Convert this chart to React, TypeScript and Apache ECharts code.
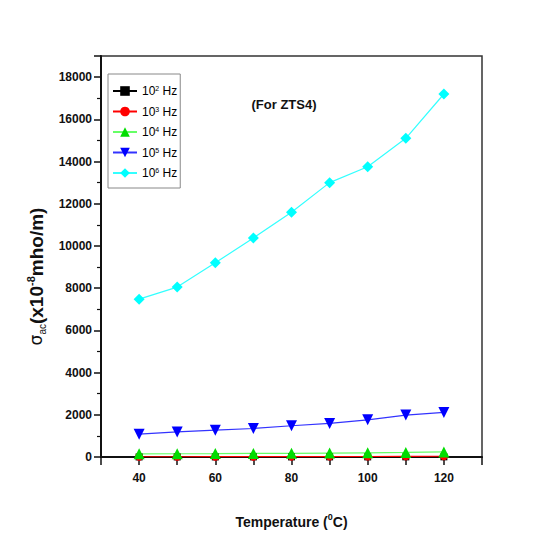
import React, { useEffect, useRef } from "react";
import * as echarts from "echarts";

const temperatures = [40, 50, 60, 70, 80, 90, 100, 110, 120];
const f1e2 = [3, 3, 3, 4, 4, 5, 5, 6, 7];
const f1e3 = [12, 13, 14, 16, 18, 20, 24, 28, 35];
const f1e4 = [150, 155, 160, 170, 175, 185, 200, 215, 240];
const f1e5 = [1080, 1190, 1270, 1350, 1480, 1590, 1760, 1985, 2110];
const f1e6 = [7480, 8050, 9200, 10380, 11600, 13000, 13750, 15100, 17200];
const seriesNames = ["10{sup|2} Hz", "10{sup|3} Hz", "10{sup|4} Hz", "10{sup|5} Hz", "10{sup|6} Hz"];
const xTickLabels = [40, 60, 80, 100, 120];

const FONT = "'Liberation Sans', Arial, sans-serif";

export default function App() {
  const ref = useRef<HTMLDivElement>(null);
  useEffect(() => {
    if (!ref.current) return;
    const chart = echarts.init(ref.current, undefined, { renderer: "svg" });
    const mk = (name: string, data: number[], lineColor: string, markColor: string, symbol: string, size: number, rotate = 0) => ({
      name,
      type: "line",
      data: temperatures.map((t, i) => [t, data[i]]),
      symbol,
      symbolSize: size,
      symbolRotate: rotate,
      lineStyle: { color: lineColor, width: 1.2 },
      itemStyle: { color: markColor },
      z: 3,
    });
    chart.setOption({
      animation: false,
      backgroundColor: "#ffffff",
      textStyle: { fontFamily: FONT },
      grid: { left: 101, right: 75, top: 56, bottom: 95, show: true, borderColor: "#333", borderWidth: 1.5 },
      graphic: [
        {
          type: "text",
          x: 284,
          y: 104,
          style: { text: "(For ZTS4)", fontFamily: FONT, fontSize: 13, fontWeight: "bold", fill: "#111", textAlign: "center", textVerticalAlign: "middle" },
        },
      ],
      legend: {
        left: 108,
        top: 74,
        orient: "vertical",
        itemWidth: 24,
        itemHeight: 12,
        itemGap: 8.5,
        padding: [11, 3, 9, 4],
        borderColor: "#888",
        borderWidth: 1,
        formatter: (n: string) => n,
        textStyle: {
          fontFamily: FONT,
          fontSize: 12,
          color: "#000",
          rich: { sup: { fontSize: 7, verticalAlign: "top", lineHeight: 8, fontFamily: FONT } },
        },
        data: seriesNames,
      },
      xAxis: {
        type: "value",
        min: 30,
        max: 130,
        interval: 10,
        name: "Temperature ({sup|0}C)",
        nameLocation: "middle",
        nameGap: 55,
        nameTextStyle: {
          fontFamily: FONT,
          fontSize: 14,
          fontWeight: "bold",
          color: "#111",
          lineHeight: 20,
          rich: { sup: { fontSize: 9, fontWeight: "bold", verticalAlign: "top", lineHeight: 9, fontFamily: FONT } },
        },
        axisLine: { onZero: false, lineStyle: { color: "#111", width: 2 } },
        axisTick: { show: true, inside: false, length: 8, lineStyle: { color: "#111", width: 1.5 } },
        axisLabel: {
          fontFamily: FONT,
          fontSize: 12,
          fontWeight: "bold",
          color: "#111",
          margin: 15,
          formatter: (v: number) => (xTickLabels.includes(v) ? String(v) : ""),
        },
        splitLine: { show: false },
      },
      yAxis: {
        type: "value",
        min: 0,
        max: 19000,
        interval: 2000,
        name: "{sig|σ}{sub|ac}(x10{sup|-8}mho/m)",
        nameLocation: "middle",
        nameGap: 54,
        nameTextStyle: {
          fontFamily: FONT,
          fontSize: 19,
          fontWeight: "bold",
          color: "#111",
          lineHeight: 22,
          padding: [0, 40, 0, 0],
          rich: {
            sig: { fontSize: 17, fontWeight: "normal", lineHeight: 22, fontFamily: "DejaVu Sans" },
            sub: { fontSize: 10, fontWeight: "normal", verticalAlign: "bottom", lineHeight: 10, fontFamily: FONT },
            sup: { fontSize: 11, fontWeight: "bold", verticalAlign: "top", lineHeight: 10, fontFamily: FONT },
          },
        },
        axisLine: { show: true, onZero: false, lineStyle: { color: "#111", width: 2 } },
        axisTick: { show: true, inside: false, length: 7, lineStyle: { color: "#111", width: 1.5 } },
        minorTick: { show: true, splitNumber: 2, length: 4, lineStyle: { color: "#111", width: 1.2 } },
        axisLabel: {
          fontFamily: FONT,
          fontSize: 12,
          fontWeight: "bold",
          color: "#111",
          margin: 9,
          formatter: (v: number) => (v > 18000 ? "" : String(v)),
        },
        splitLine: { show: false },
      },
      series: [
        mk(seriesNames[0], f1e2, "#000000", "#000000", "rect", 7),
        mk(seriesNames[1], f1e3, "#ff0000", "#ff0000", "circle", 8),
        mk(seriesNames[2], f1e4, "#66ff66", "#00dd00", "triangle", 11),
        mk(seriesNames[3], f1e5, "#3333ff", "#0000ff", "triangle", 11, 180),
        mk(seriesNames[4], f1e6, "#33ffff", "#00ffff", "diamond", 11),
      ],
    });
    return () => chart.dispose();
  }, []);
  return <div ref={ref} style={{ position: "absolute", left: 0, top: 0, width: 557, height: 552 }} />;
}
